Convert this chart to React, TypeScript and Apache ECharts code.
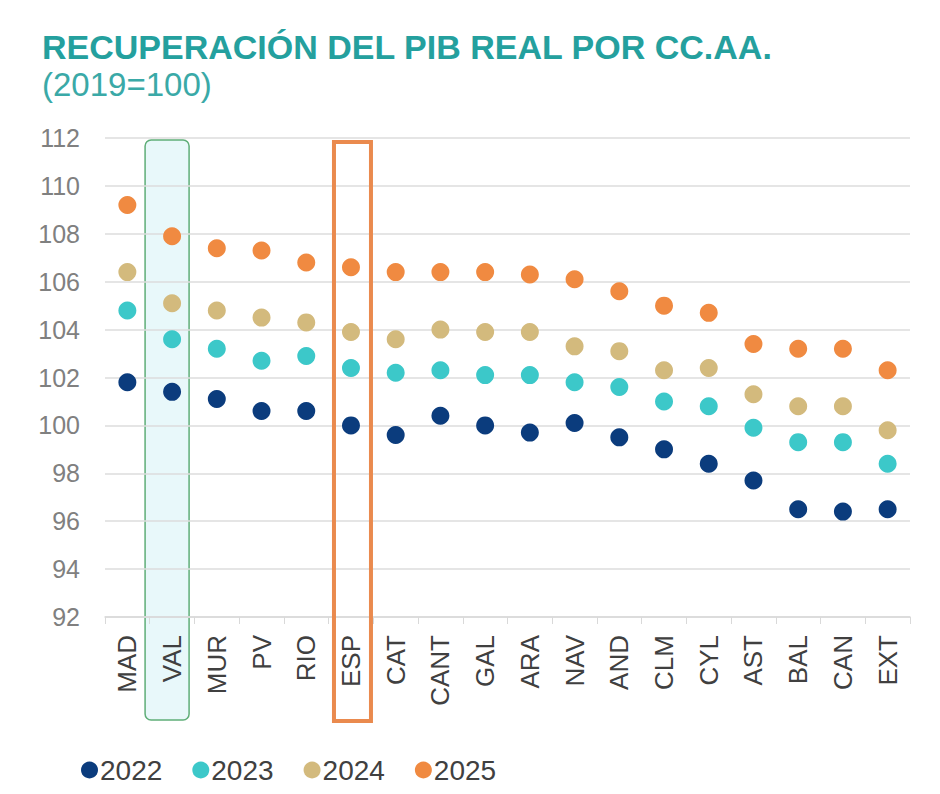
import React, { useEffect, useRef } from "react";
import * as echarts from "echarts";

const categories = ["MAD", "VAL", "MUR", "PV", "RIO", "ESP", "CAT", "CANT", "GAL", "ARA", "NAV", "AND", "CLM", "CYL", "AST", "BAL", "CAN", "EXT"];
const yearLabels = ["2022", "2023", "2024", "2025"];
const v2022 = [101.8, 101.4, 101.1, 100.6, 100.6, 100.0, 99.6, 100.4, 100.0, 99.7, 100.1, 99.5, 99.0, 98.4, 97.7, 96.5, 96.4, 96.5];
const v2023 = [104.8, 103.6, 103.2, 102.7, 102.9, 102.4, 102.2, 102.3, 102.1, 102.1, 101.8, 101.6, 101.0, 100.8, 99.9, 99.3, 99.3, 98.4];
const v2024 = [106.4, 105.1, 104.8, 104.5, 104.3, 103.9, 103.6, 104.0, 103.9, 103.9, 103.3, 103.1, 102.3, 102.4, 101.3, 100.8, 100.8, 99.8];
const v2025 = [109.2, 107.9, 107.4, 107.3, 106.8, 106.6, 106.4, 106.4, 106.4, 106.3, 106.1, 105.6, 105.0, 104.7, 103.4, 103.2, 103.2, 102.3];
const yMin = 92;
const yMax = 112;
const yStep = 2;

const colors = ["#0b3c7d", "#3cc8c9", "#d3ba7d", "#f08a41"];
const FONT = "'Liberation Sans', Arial, sans-serif";

export default function App() {
  const ref = useRef<HTMLDivElement>(null);
  useEffect(() => {
    document.body.style.margin = "0";
    const chart = echarts.init(ref.current!, null, { renderer: "svg" });
    const seriesData = [v2022, v2023, v2024, v2025];
    chart.setOption({
      animation: false,
      backgroundColor: "#ffffff",
      title: {
        text: "RECUPERACIÓN DEL PIB REAL POR CC.AA.",
        subtext: "(2019=100)",
        left: 37,
        top: 25,
        itemGap: 4,
        textStyle: { fontFamily: FONT, fontSize: 34, fontWeight: "bold", color: "#24a09e" },
        subtextStyle: { fontFamily: FONT, fontSize: 33, color: "#3aa9a7" },
      },
      legend: {
        left: 76,
        top: 751,
        icon: "circle",
        itemWidth: 17,
        itemHeight: 17,
        itemGap: 30,
        data: yearLabels,
        textStyle: { fontFamily: FONT, fontSize: 28, color: "#404040", padding: [0, 0, 0, -3] },
      },
      grid: { left: 105, right: 30, top: 138, bottom: 177 },
      xAxis: {
        type: "category",
        data: categories,
        axisLine: { lineStyle: { color: "#d9d9d9", width: 1.5 } },
        axisTick: { show: true, length: 7, lineStyle: { color: "#d9d9d9" } },
        axisLabel: { rotate: 90, margin: 18, fontFamily: FONT, fontSize: 26, color: "#404040", interval: 0 },
        splitLine: { show: false },
      },
      yAxis: {
        type: "value",
        min: yMin,
        max: yMax,
        interval: yStep,
        axisLine: { show: false },
        axisTick: { show: false },
        axisLabel: { margin: 25, fontFamily: FONT, fontSize: 25, color: "#808080" },
        splitLine: { lineStyle: { color: "#dcdcdc", width: 1.5 } },
      },
      series: yearLabels.map((name, i) => ({
        name,
        type: "scatter",
        symbol: "circle",
        symbolSize: 18,
        z: 5,
        itemStyle: { color: colors[i], opacity: 1 },
        data: seriesData[i],
      })),
    });
    const cVal = chart.convertToPixel({ xAxisIndex: 0 }, "VAL") as number;
    const cEsp = chart.convertToPixel({ xAxisIndex: 0 }, "ESP") as number;
    chart.setOption({
      graphic: [
        {
          type: "rect",
          z: -10,
          zlevel: 0,
          shape: { x: cVal - 27, y: 140, width: 44, height: 580, r: 6 },
          style: { fill: "#e8f8fa", stroke: "#5fae78", lineWidth: 1.5 },
        },
        {
          type: "rect",
          z: 1,
          shape: { x: cEsp - 17, y: 142, width: 37, height: 579 },
          style: { fill: "rgba(255,255,255,0)", stroke: "#ea8a4e", lineWidth: 4 },
        },
      ],
    });
    return () => chart.dispose();
  }, []);
  return <div ref={ref} style={{ width: 940, height: 794 }} />;
}
